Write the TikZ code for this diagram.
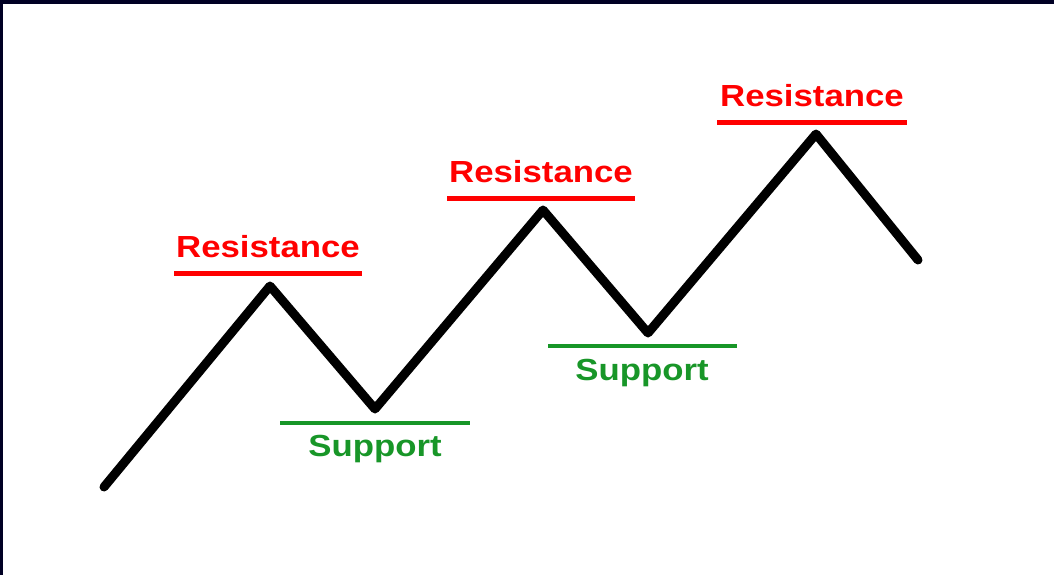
\documentclass[tikz,border=0pt]{standalone}
\usepackage{fontspec}
\newfontfamily\lblfont[FakeStretch=1.14]{Liberation Sans}
\definecolor{resred}{RGB}{255,0,0}
\definecolor{supgreen}{RGB}{24,150,40}
\definecolor{frame}{RGB}{0,0,36}
\tikzset{
  price/.style={line width=9pt, line cap=round, line join=round, black},
  resline/.style={line width=5pt, resred},
  supline/.style={line width=4.5pt, supgreen},
  reslabel/.style={font=\lblfont\bfseries\fontsize{30.5}{32}\selectfont, text=resred, anchor=base, inner sep=0pt},
  suplabel/.style={font=\lblfont\bfseries\fontsize{30.5}{32}\selectfont, text=supgreen, anchor=base, inner sep=0pt}
}
\begin{document}
\begin{tikzpicture}[x=1pt,y=-1pt]
\useasboundingbox (0,0) rectangle (1054,575);
\fill[white] (0,0) rectangle (1054,575);
\fill[frame] (0,0) rectangle (1054,4);
\fill[frame] (0,0) rectangle (3,575);
% price path
\coordinate (s) at (104,487);
\coordinate (p1) at (270,286);
\coordinate (t1) at (375,409);
\coordinate (p2) at (543,210);
\coordinate (t2) at (648,333);
\coordinate (p3) at (816,134);
\coordinate (e) at (918,260);
\draw[price] (s) -- (p1) -- (t1) -- (p2) -- (t2) -- (p3) -- (e);
% resistance lines
\coordinate (r1a) at (174,273); \coordinate (r1b) at (362,273);
\coordinate (r2a) at (447,198); \coordinate (r2b) at (635,198);
\coordinate (r3a) at (717,123); \coordinate (r3b) at (907,123);
\draw[resline] (r1a) -- (r1b);
\draw[resline] (r2a) -- (r2b);
\draw[resline] (r3a) -- (r3b);
\node[reslabel] (rt1) at (268,257) {Resistance};
\node[reslabel] (rt2) at (541,182) {Resistance};
\node[reslabel] (rt3) at (812,107) {Resistance};
% support lines
\coordinate (s1a) at (280,423); \coordinate (s1b) at (470,423);
\coordinate (s2a) at (548,346); \coordinate (s2b) at (737,346);
\draw[supline] (s1a) -- (s1b);
\draw[supline] (s2a) -- (s2b);
\node[suplabel] (st1) at (375,456) {Support};
\node[suplabel] (st2) at (642,380) {Support};
\end{tikzpicture}
\end{document}
